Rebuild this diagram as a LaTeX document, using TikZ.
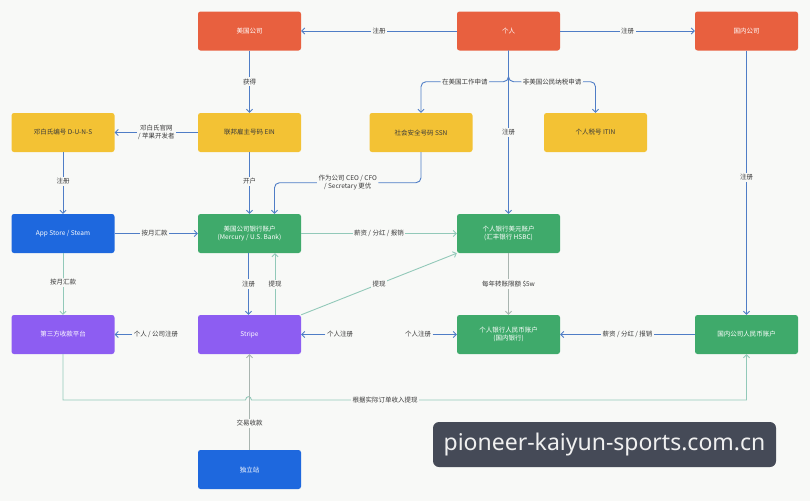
\documentclass[tikz,border=0pt]{standalone}
\usepackage{fontspec}
\setmainfont{Noto Sans}
\newfontfamily\cjk{Noto Sans CJK SC}
\newfontfamily\wmfont{Noto Sans}
\usetikzlibrary{arrows.meta,calc}
\definecolor{bg}{HTML}{F8F9F7}
\definecolor{cred}{HTML}{E8603F}
\definecolor{cyellow}{HTML}{F3C234}
\definecolor{cblue}{HTML}{1E68DE}
\definecolor{cgreen}{HTML}{3FAA6B}
\definecolor{cpurple}{HTML}{8D5DF2}
\definecolor{lblue}{HTML}{4F7DC6}
\definecolor{lteal}{HTML}{92C9B9}
\definecolor{lgrey}{HTML}{A9B5B0}
\definecolor{wmbg}{HTML}{454A57}
\definecolor{ltext}{HTML}{3A3A3A}
\begin{document}
\begin{tikzpicture}[x=1pt,y=-1pt,
  font=\cjk\fontsize{6.5}{8}\selectfont,
  box/.style={rectangle, rounded corners=2.5pt, minimum width=103pt, minimum height=39pt, inner sep=0pt, align=center, text=white},
  redbox/.style={box, fill=cred},
  yelbox/.style={box, fill=cyellow, text=ltext},
  bluebox/.style={box, fill=cblue},
  greenbox/.style={box, fill=cgreen},
  purbox/.style={box, fill=cpurple},
  lbl/.style={fill=bg, inner sep=1.5pt, text=ltext, align=center},
  ln/.style={draw=lblue, line width=0.9pt, -{Straight Barb[length=3pt,width=6pt]}},
  tl/.style={ln, draw=lteal},
  gl/.style={ln, draw=lgrey}]
\path[use as bounding box, fill=bg] (0,0) rectangle (810,501);

% row 1
\node[redbox] (usco) at (249.5,31) {美国公司};
\node[redbox] (geren) at (508.5,31) {个人};
\node[redbox] (cnco) at (746.5,31) {国内公司};
% row 2
\node[yelbox] (duns) at (63,132.5) {邓白氏编号 D-U-N-S};
\node[yelbox] (ein) at (249.5,132.5) {联邦雇主号码 EIN};
\node[yelbox] (ssn) at (421,132.5) {社会安全号码 SSN};
\node[yelbox] (itin) at (595.5,132.5) {个人税号 ITIN};
% row 3
\node[bluebox] (app) at (63,233.5) {App Store / Steam};
\node[greenbox] (usbank) at (249.5,233.5) {美国公司银行账户\\(Mercury / U.S. Bank)};
\node[greenbox] (usd) at (508.5,233.5) {个人银行美元账户\\(汇丰银行 HSBC)};
% row 4
\node[purbox] (third) at (63,334.5) {第三方收款平台};
\node[purbox] (stripe) at (249.5,334.5) {Stripe};
\node[greenbox] (rmb) at (508.5,334.5) {个人银行人民币账户\\(国内银行)};
\node[greenbox] (cnrmb) at (746.5,334.5) {国内公司人民币账户};
% row 5
\node[bluebox] (indep) at (249.5,469.5) {独立站};

% connectors
\draw[ln] (geren) -- node[lbl]{注册} (usco);
\draw[ln] (geren) -- node[lbl]{注册} (cnco);
\draw[ln] (usco) -- node[lbl]{获得} (ein);
\draw[ln] (ein) -- node[lbl]{邓白氏官网\\/ 苹果开发者} (duns);
\draw[ln] (duns) -- node[lbl, pos=0.47]{注册} (app);
\draw[ln, rounded corners=5pt] (geren.south) -- ++(0,31) -| node[lbl, pos=0.25]{在美国工作申请} (ssn.north);
\draw[ln, rounded corners=5pt] (geren.south) -- ++(0,31) -| node[lbl, pos=0.25]{非美国公民纳税申请} (itin.north);
\draw[ln] (geren) -- node[lbl]{注册} (usd);
\draw[ln] (ein) -- node[lbl, pos=0.47]{开户} (usbank);
\draw[ln, rounded corners=5pt] (ssn.south) -- ++(0,30.5) -| node[lbl, pos=0.25]{作为公司 CEO / CFO\\/ Secretary 更优} ([xshift=25pt]usbank.north);
\draw[ln] (cnco) -- node[lbl, pos=0.48]{注册} (cnrmb);
\draw[ln] (app) -- node[lbl, pos=0.48]{按月汇款} (usbank);
\draw[tl] (app) -- node[lbl, pos=0.47]{按月汇款} (third);
\draw[tl] (usbank) -- node[lbl]{薪资 / 分红 / 报销} (usd);
\draw[ln] ([xshift=-1pt]usbank.south) -- node[lbl]{注册} ([xshift=-1pt]stripe.north);
\draw[tl] ([xshift=25.5pt]stripe.north) -- node[lbl]{提现} ([xshift=25.5pt]usbank.south);
\draw[tl] (stripe.north east) -- node[lbl]{提现} (usd.south west);
\draw[gl] (usd) -- node[lbl]{每年转账限额 \$5w} (rmb);
\draw[ln] (cnrmb) -- node[lbl]{薪资 / 分红 / 报销} (rmb);
\node[lbl] (f1) at (156,334.5) {个人 / 公司注册};
\node[lbl] (f2) at (340,334.5) {个人注册};
\node[lbl] (f3) at (418,334.5) {个人注册};
\draw[ln] (f1) -- (third);
\draw[ln] (f2) -- (stripe);
\draw[ln] (f3) -- (rmb);
\draw[tl] (third.south) -- (63,400) -- (245.5,400) .. controls (246,395.5) and (251,395.5) .. (251.5,400) -- node[lbl, pos=0.27]{根据实际订单收入提现} (746.5,400) -- (cnrmb.south);
\draw[gl] (indep) -- node[lbl, pos=0.28]{交易收款} (stripe);

% watermark
\node[fill=wmbg, rounded corners=6pt, minimum width=343pt, minimum height=45pt, inner sep=0pt, text=white!94!black, font=\wmfont\fontsize{23}{26}\selectfont] (wm) at (604.5,444.5) {pioneer-kaiyun-sports.com.cn};
\end{tikzpicture}
\end{document}
